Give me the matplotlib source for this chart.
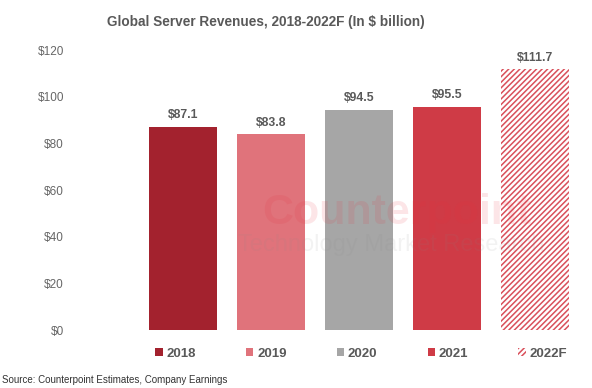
import matplotlib
matplotlib.use('Agg')
from matplotlib import pyplot as plt
from matplotlib.patches import Patch

plt.rcParams['font.family'] = ['Liberation Sans', 'DejaVu Sans']
plt.rcParams['hatch.linewidth'] = 1.1

years = ['2018', '2019', '2020', '2021', '2022F']
revenue = [87.1, 83.8, 94.5, 95.5, 111.7]
colors = ['#A3222E', '#E0737B', '#A6A6A6', '#CF3B46', 'white']
yticks = [0, 20, 40, 60, 80, 100, 120]

grey = '#595959'
hatch_col = '#D9505B'

fig = plt.figure(figsize=(5.92, 3.88), dpi=100)
ax = fig.add_axes([139/592, 1-330/388, 440/592, 280/388])

x = range(len(years))
bars = ax.bar(x, revenue, width=0.78, color=colors)
bars[-1].set_hatch('//////')
bars[-1].set_edgecolor(hatch_col)
bars[-1].set_linewidth(0)

for xi, v in zip(x, revenue):
    ax.text(xi, v + 2.5, f'${v}', ha='center', va='bottom',
            fontsize=8.8, fontweight='bold', color=grey)

ax.set_ylim(0, 120)
ax.set_xlim(-0.5, len(years) - 0.5)
ax.set_yticks(yticks)
ax.set_yticklabels([f'${t}' for t in yticks], fontsize=8.5, color='#666666')
ax.tick_params(axis='y', length=0, pad=54)
ax.set_xticks([])
for s in ax.spines.values():
    s.set_visible(False)

# faint watermark
fig.text(0.67, 1-213/388, 'Counterpoint', fontsize=31, fontweight='bold',
         color='#E8303C', alpha=0.12, ha='center', va='center', zorder=5)
fig.text(0.66, 1-245/388, 'Technology Market Research', fontsize=17,
         color='#888888', alpha=0.1, ha='center', va='center', zorder=5)

handles = []
for c, yr in zip(colors, years):
    if yr.endswith('F'):
        handles.append(Patch(facecolor='white', edgecolor=hatch_col,
                             hatch='//////', linewidth=0, label=yr))
    else:
        handles.append(Patch(facecolor=c, label=yr))
ax.legend(handles=handles, loc='upper left', ncol=5, mode='expand',
          bbox_to_anchor=(0.01, -0.072, 0.99, 0.05), frameon=False,
          handlelength=0.55, handleheight=0.55, handletextpad=0.3,
          prop={'size': 9.5, 'weight': 'bold'}, labelcolor=grey)

fig.suptitle('Global Server Revenues, 2018-2022F (In $ billion)', x=266/592,
             y=1-22/388, va='center', fontsize=9.8, fontweight='bold', color=grey)
fig.text(0.003, 1-380/388, 'Source: Counterpoint Estimates, Company Earnings',
         fontsize=7, color='#333333', va='center')

fig.savefig('out.png', dpi=100)
